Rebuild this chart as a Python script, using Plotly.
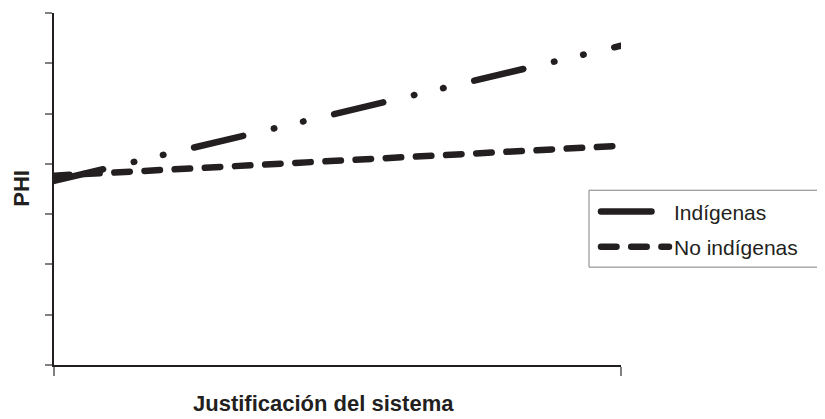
import plotly.graph_objects as go

# Data
x_points = [0, 1]
series_names = ["Indígenas", "No indígenas"]
indigenas = [3.66, 6.35]
no_indigenas = [3.765, 4.36]
x_title = "Justificación del sistema"
y_title = "PHI"

ink = "#231f20"

fig = go.Figure()
fig.add_trace(go.Scatter(
    x=x_points, y=indigenas, mode="lines", name=series_names[0],
    legendgroup="g1",
    line=dict(color=ink, width=6.5,
              dash="50.5px,31.5px,0.5px,29.5px,0.5px,31.5px"),
))
fig.add_trace(go.Scatter(
    x=x_points, y=no_indigenas, mode="lines", name=series_names[1],
    legendgroup="g2",
    line=dict(color=ink, width=6.5, dash="15.5px,14.7px"),
))

# page body has an 8px margin, so the figure is 8px smaller than the window
PW, PH = 567, 352.5  # plot area size in px
L, T = 46, 4.5

def px_x(v):
    return (v - L) / PW

def px_y(v):
    return (T + PH - v) / PH

fig.update_layout(
    width=817, height=411,
    margin=dict(l=L, r=204, t=T, b=54),
    paper_bgcolor="white", plot_bgcolor="white",
    font=dict(family="Liberation Sans, Arial, sans-serif", color=ink),
    showlegend=True,
    legend=dict(
        x=px_x(582), y=px_y(183), xanchor="left", yanchor="top",
        borderwidth=0,
        font=dict(size=21, color=ink),
        itemwidth=68, indentation=6, tracegroupgap=5,
        bgcolor="rgba(0,0,0,0)",
    ),
    shapes=[
        dict(type="rect", xref="paper", yref="paper",
             x0=px_x(581), x1=px_x(840), y0=px_y(182), y1=px_y(259),
             line=dict(color="#808080", width=1), fillcolor="white",
             layer="above"),
    ],
    xaxis=dict(
        range=[0, 1], showgrid=False, zeroline=False,
        showline=True, linecolor=ink, linewidth=1.5,
        ticks="outside", ticklen=9, tickcolor="#808080", tickwidth=1.5,
        tickvals=[0, 1], showticklabels=False,
    ),
    yaxis=dict(
        range=[0, 7], showgrid=False, zeroline=False,
        showline=True, linecolor=ink, linewidth=1.5,
        ticks="outside", ticklen=7, tickcolor="#808080", tickwidth=1.5,
        tickvals=[0, 1, 2, 3, 4, 5, 6, 7], showticklabels=False,
    ),
    annotations=[
        dict(text="<b>" + x_title + "</b>", xref="paper", yref="paper",
             x=px_x(315), y=px_y(396),
             xanchor="center", yanchor="middle",
             showarrow=False, font=dict(size=22, color=ink)),
        dict(text="<b>" + y_title + "</b>", xref="paper", yref="paper",
             x=px_x(13.5), y=0.502, xanchor="center", yanchor="middle",
             textangle=-90, showarrow=False, font=dict(size=22, color=ink)),
    ],
)

round_caps = """
document.querySelectorAll('path.js-line, g.legendlines path').forEach(function(p){
  p.style.strokeLinecap = 'round';
});
"""

fig.write_html("out.html", post_script=round_caps)
